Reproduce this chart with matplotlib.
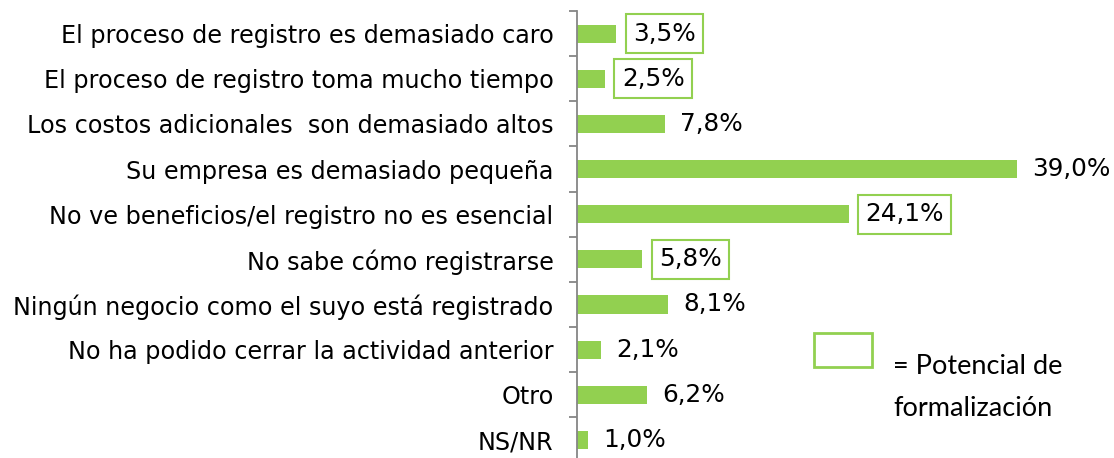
import matplotlib
matplotlib.use('Agg')

import matplotlib.pyplot as plt
import matplotlib.patches as mpatches

categories = [
    'El proceso de registro es demasiado caro',
    'El proceso de registro toma mucho tiempo',
    'Los costos adicionales  son demasiado altos',
    'Su empresa es demasiado pequeña',
    'No ve beneficios/el registro no es esencial',
    'No sabe cómo registrarse',
    'Ningún negocio como el suyo está registrado',
    'No ha podido cerrar la actividad anterior',
    'Otro',
    'NS/NR',
]
values = [3.5, 2.5, 7.8, 39.0, 24.1, 5.8, 8.1, 2.1, 6.2, 1.0]
boxed = [True, True, False, False, True, True, False, False, False, False]

green = '#92D050'
axis_gray = '#868686'

fig = plt.figure(figsize=(11.14, 4.58), dpi=100)
ax = fig.add_axes([577 / 1114, 0.0, 537 / 1114, 1 - 11 / 458])

y = list(range(len(categories)))
ax.barh(y, values, height=0.4, color=green, zorder=2)

ax.set_xlim(0, 537 / 11.28)
ax.set_ylim(9.4, -0.5)

for spine in ['top', 'right', 'bottom']:
    ax.spines[spine].set_visible(False)
ax.spines['left'].set_color(axis_gray)
ax.spines['left'].set_linewidth(1.3)

ax.set_xticks([])
ax.set_yticks(y)
ax.set_yticklabels(categories, fontsize=17.2, family='DejaVu Sans', color='black')
ax.tick_params(axis='y', length=0, pad=17)
# boundary tick marks between categories
ax.set_yticks([i - 0.5 for i in range(len(categories))], minor=True)
ax.tick_params(axis='y', which='minor', length=6, width=1.3, color=axis_gray, direction='out')

for i, (v, b) in enumerate(zip(values, boxed)):
    label = f'{v:.1f}%'.replace('.', ',')
    if b:
        ax.annotate(label, (v, i), xytext=(12, 0), textcoords='offset points',
                    va='center', ha='left', fontsize=17.8, family='DejaVu Sans',
                    bbox=dict(boxstyle='square,pad=0.3', fc='white', ec=green, lw=1.5))
    else:
        ax.annotate(label, (v, i), xytext=(11, 0), textcoords='offset points',
                    va='center', ha='left', fontsize=17.8, family='DejaVu Sans')

# legend box
fig.patches.append(mpatches.Rectangle((814 / 1114, 1 - 367 / 458), 58 / 1114, 34 / 458,
                                      transform=fig.transFigure, fc='white', ec=green, lw=2))
fig.text(893 / 1114, 1 - 367 / 458, '= Potencial de', fontsize=19.5, family='Lato', va='center')
fig.text(893 / 1114, 1 - 409 / 458, 'formalización', fontsize=19.5, family='Lato', va='center')

fig.savefig('out.png', dpi=100)
